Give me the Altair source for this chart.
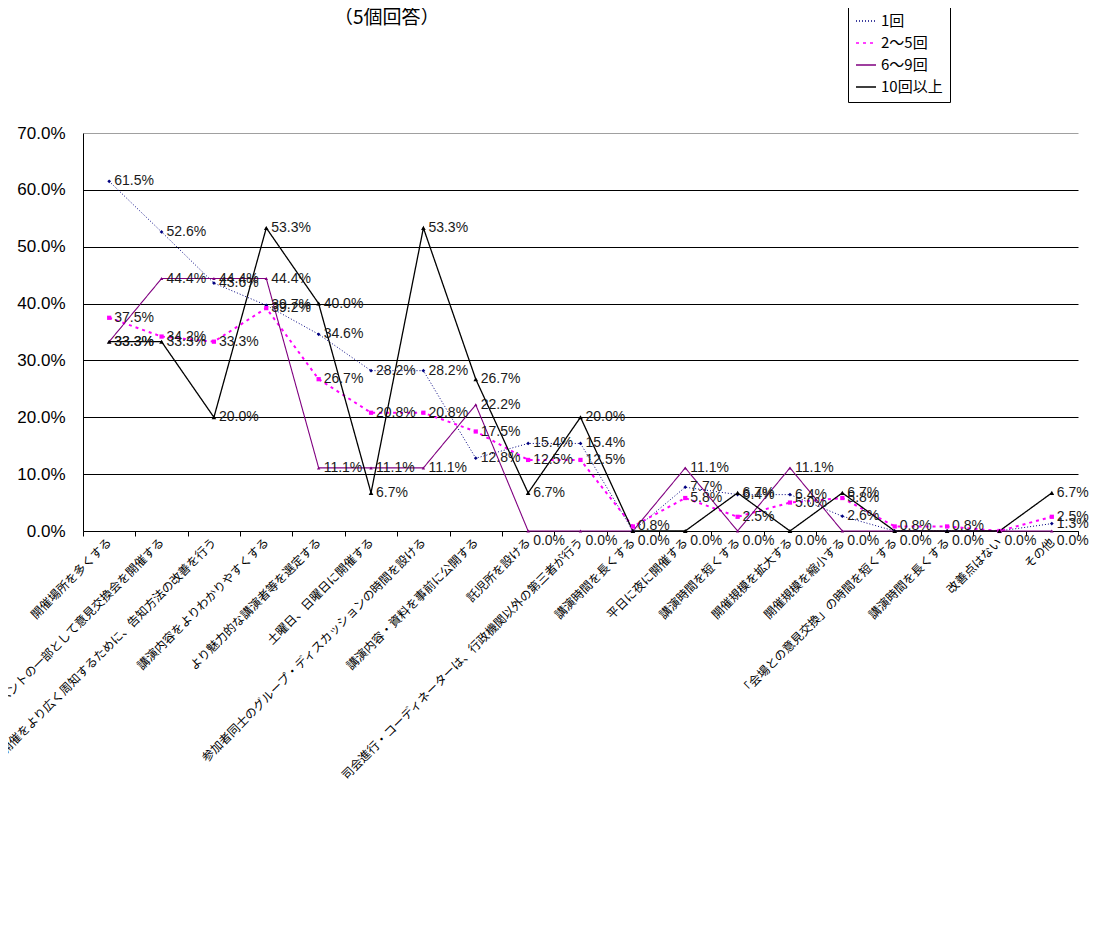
import json
import altair as alt
import pandas as pd

categories = [
    "開催場所を多くする",
    "イベントの一部として意見交換会を開催する",
    "開催をより広く周知するために、告知方法の改善を行う",
    "講演内容をよりわかりやすくする",
    "より魅力的な講演者等を選定する",
    "土曜日、日曜日に開催する",
    "参加者同士のグループ・ディスカッションの時間を設ける",
    "講演内容・資料を事前に公開する",
    "託児所を設ける",
    "司会進行・コーディネーターは、行政機関以外の第三者が行う",
    "講演時間を長くする",
    "平日に夜に開催する",
    "講演時間を短くする",
    "開催規模を拡大する",
    "開催規模を縮小する",
    "「会場との意見交換」の時間を短くする",
    "講演時間を長くする",
    "改善点はない",
    "その他",
]

series_names = ["1回", "2〜5回", "6〜9回", "10回以上"]

vals_1 = [61.5, 52.6, 43.6, 39.7, 34.6, 28.2, 28.2, 12.8, 15.4, 15.4, 0.0, 7.7, 6.4, 6.4, 2.6, 0.0, 0.0, 0.0, 1.3]
vals_2_5 = [37.5, 34.2, 33.3, 39.2, 26.7, 20.8, 20.8, 17.5, 12.5, 12.5, 0.8, 5.8, 2.5, 5.0, 5.8, 0.8, 0.8, 0.0, 2.5]
vals_6_9 = [33.3, 44.4, 44.4, 44.4, 11.1, 11.1, 11.1, 22.2, 0.0, 0.0, 0.0, 11.1, 0.0, 11.1, 0.0, 0.0, 0.0, 0.0, 0.0]
vals_10 = [33.3, 33.3, 20.0, 53.3, 40.0, 6.7, 53.3, 26.7, 6.7, 20.0, 0.0, 0.0, 6.7, 0.0, 6.7, 0.0, 0.0, 0.0, 6.7]

y_ticks = [0, 10, 20, 30, 40, 50, 60, 70]

rows = []
for name, vals in zip(series_names, [vals_1, vals_2_5, vals_6_9, vals_10]):
    for i, v in enumerate(vals):
        rows.append({"idx": i + 1, "series": name, "value": v})
df = pd.DataFrame(rows)

n = len(categories)
label_arr = "[" + ",".join(json.dumps(c, ensure_ascii=False) for c in categories) + "]"
xlabel_expr = f"datum.value < {n} ? {label_arr}[floor(datum.value)] : ''"

colors = ["#000080", "#FF00FF", "#800080", "#000000"]
dashes = [[1, 2], [3, 4], [1, 0], [1, 0]]
widths = [1, 2, 1.1, 1.3]
shapes = ["diamond", "square", "triangle-up", "triangle-up"]
sizes = [14, 18, 12, 22]

X = alt.X(
    "idx:Q",
    scale=alt.Scale(domain=[0.5, n + 0.5], nice=False, zero=False),
    axis=alt.Axis(
        values=[i + 0.5 for i in range(n + 1)],
        labelExpr=xlabel_expr,
        labelOffset=26,
        labelAngle=-45,
        labelAlign="right",
        labelBaseline="middle",
        labelFontSize=12,
        labelFont="Noto Sans CJK JP",
        labelColor="black",
        labelLimit=2000,
        labelOverlap=False,
        labelFlush=False,
        labelPadding=4,
        tickSize=5,
        tickColor="black",
        domainColor="black",
        grid=False,
        title=None,
    ),
)

Y = alt.Y(
    "value:Q",
    scale=alt.Scale(domain=[0, 70], nice=False),
    axis=alt.Axis(
        values=y_ticks,
        labelExpr="format(datum.value, '.1f') + '%'",
        labelFontSize=17,
        labelFont="Liberation Sans",
        labelColor="black",
        ticks=False,
        labelPadding=18,
        domainColor="black",
        grid=True,
        gridColor={"condition": {"test": "datum.value >= 70", "value": "#a0a0a0"}, "value": "#000000"},
        gridOpacity=1,
        title=None,
    ),
)

leg = alt.Legend(
    title=None,
    orient="none",
    legendX=765,
    legendY=-130,
    symbolType="stroke",
    symbolSize=400,
    symbolStrokeWidth=1.5,
    labelFontSize=15,
    labelFont="Noto Sans CJK JP",
    labelColor="black",
    labelOffset=4,
    fillColor="white",
    strokeColor="black",
    padding=7,
    rowPadding=3,
)

color = alt.Color("series:N", scale=alt.Scale(domain=series_names, range=colors), legend=leg)
dash = alt.StrokeDash("series:N", scale=alt.Scale(domain=series_names, range=dashes), legend=leg)

base = alt.Chart(df)

line_layers = []
for name, w in zip(series_names, widths):
    line_layers.append(
        base.transform_filter(alt.datum.series == name)
        .mark_line(strokeWidth=w)
        .encode(x=X, y=Y, color=color, strokeDash=dash, order="idx:Q")
    )

point_layers = []
for name, c, shp, sz in zip(series_names, colors, shapes, sizes):
    point_layers.append(
        base.transform_filter(alt.datum.series == name)
        .mark_point(filled=True, opacity=1, color=c, shape=shp, size=sz)
        .encode(x=X, y=Y)
    )

labels_nz = base.transform_filter("datum.value > 0").transform_calculate(
    lbl="format(datum.value, '.1f') + '%'"
).mark_text(align="left", baseline="middle", dx=5, fontSize=14, font="Liberation Sans", color="#1a1a1a").encode(
    x=X, y=Y, text="lbl:N"
)

labels_zero = base.transform_filter("datum.value == 0").transform_aggregate(
    cnt="count()", groupby=["idx"]
).transform_calculate(value="0", lbl="'0.0%'").mark_text(
    align="left", baseline="middle", dx=5, dy=10, fontSize=14, font="Liberation Sans", color="#1a1a1a"
).encode(x=X, y=alt.Y("value:Q"), text="lbl:N")

chart = alt.layer(*line_layers, *point_layers, labels_nz, labels_zero).properties(
    width=995,
    height=398,
    autosize=alt.AutoSizeParams(type="none"),
    padding={"left": 75, "top": 125, "right": 15, "bottom": 280},
    title=alt.TitleParams(
        "（5個回答）",
        anchor="start",
        dx=251,
        fontSize=19,
        font="Noto Sans CJK JP",
        fontWeight="normal",
        color="black",
        frame="group",
        offset=-25,
    ),
).configure_view(stroke=None)

chart.save("out.html", embed_options={"renderer": "svg", "actions": False})
